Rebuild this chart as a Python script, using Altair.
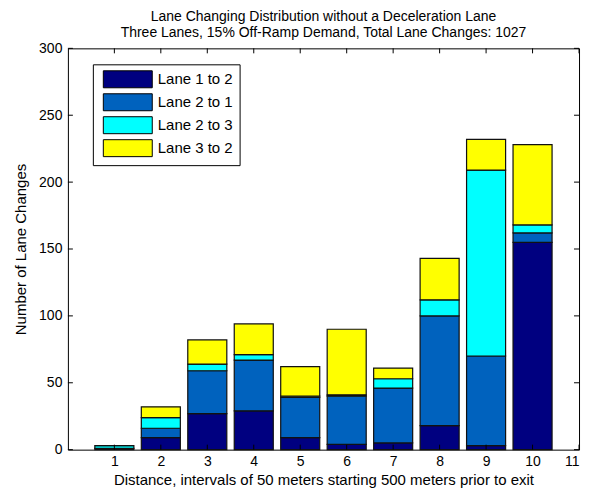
import altair as alt
import pandas as pd

positions = [1, 2, 3, 4, 5, 6, 7, 8, 9, 10]
series = ["Lane 1 to 2", "Lane 2 to 1", "Lane 2 to 3", "Lane 3 to 2"]
lane_1_to_2 = [1, 9, 27, 29, 9, 4, 5, 18, 3, 155]
lane_2_to_1 = [0, 7, 32, 38, 30, 36, 41, 82, 67, 7]
lane_2_to_3 = [2, 8, 5, 4, 1, 1, 7, 12, 139, 6]
lane_3_to_2 = [0, 8, 18, 23, 22, 49, 8, 31, 23, 60]
colors = ["#000080", "#0062BE", "#00FFFF", "#FFFF00"]
x_ticks = list(range(1, 12))
y_ticks = [0, 50, 100, 150, 200, 250, 300]

rows = []
for si, (name, vals) in enumerate(zip(series, [lane_1_to_2, lane_2_to_1, lane_2_to_3, lane_3_to_2])):
    for p, v in zip(positions, vals):
        rows.append({"pos": p, "series": name, "order": si, "value": v})
df = pd.DataFrame(rows)

W, H = 512, 402
font = "Liberation Sans"

xscale = alt.Scale(domain=[0, 11], nice=False, zero=False)
yscale = alt.Scale(domain=[0, 300], nice=False)

pad = "\u00a0" * 4

bars = alt.Chart(df).transform_stack(
    stack="value", groupby=["pos"], as_=["y0", "y1"], sort=[alt.SortField("order")]
).transform_calculate(
    x0="datum.pos - 0.42", x1="datum.pos + 0.42"
).mark_bar(stroke="#111111", strokeWidth=1.2).encode(
    x=alt.X("x0:Q", scale=xscale, axis=alt.Axis(values=x_ticks, title="Distance, intervals of 50 meters starting 500 meters prior to exit",
                                                ticks=False, labelPadding=5, titlePadding=4, grid=False, domain=False)),
    x2="x1:Q",
    y=alt.Y("y0:Q", scale=yscale, axis=alt.Axis(values=y_ticks, title="Number of Lane Changes", ticks=False,
                                               labelPadding=6, titlePadding=10, grid=False, domain=False)),
    y2="y1:Q",
    color=alt.Color("series:N", scale=alt.Scale(domain=series, range=colors),
                    legend=alt.Legend(title=None, orient="none", legendX=25, legendY=16,
                                      symbolType="M-3,-1.04H3V1.04H-3Z", symbolSize=267,
                                      symbolOffset=20,
                                      symbolStrokeColor="black", symbolStrokeWidth=1, symbolOpacity=1,
                                      labelFontSize=15, labelFont=font, labelColor="black",
                                      labelExpr="datum.label + '" + pad + "'",
                                      rowPadding=1, padding=6, strokeColor="black", fillColor="white",
                                      labelOffset=21)),
)

ytick_df = pd.DataFrame({"t": y_ticks})
xtick_df = pd.DataFrame({"t": x_ticks})

yl = alt.Chart(ytick_df).mark_rule(color="black").encode(
    y=alt.Y("t:Q", scale=yscale), x=alt.value(0), x2=alt.value(5))
yr = alt.Chart(ytick_df).mark_rule(color="black").encode(
    y=alt.Y("t:Q", scale=yscale), x=alt.value(W - 5), x2=alt.value(W))
xb = alt.Chart(xtick_df).mark_rule(color="black").encode(
    x=alt.X("t:Q", scale=xscale), y=alt.value(H - 5), y2=alt.value(H))
xt = alt.Chart(xtick_df).mark_rule(color="black").encode(
    x=alt.X("t:Q", scale=xscale), y=alt.value(0), y2=alt.value(5))

chart = alt.layer(bars, yl, yr, xb, xt).properties(
    width=W, height=H,
    title=alt.Title(["Lane Changing Distribution without a Deceleration Lane",
                     "Three Lanes, 15% Off-Ramp Demand, Total Lane Changes: 1027"],
                    fontSize=14, font=font, fontWeight="normal", color="black", anchor="middle", offset=1, lineHeight=16),
    autosize=alt.AutoSizeParams(type="none"),
    padding={"left": 60, "top": 40, "right": 10, "bottom": 40},
).configure_view(stroke="black", strokeWidth=1).configure_axis(
    labelFont=font, titleFont=font, labelFontSize=14, titleFontSize=15, labelColor="black", titleColor="black",
    titleFontWeight="normal"
)

chart.save("out.html", embed_options={"renderer": "svg", "actions": False})
